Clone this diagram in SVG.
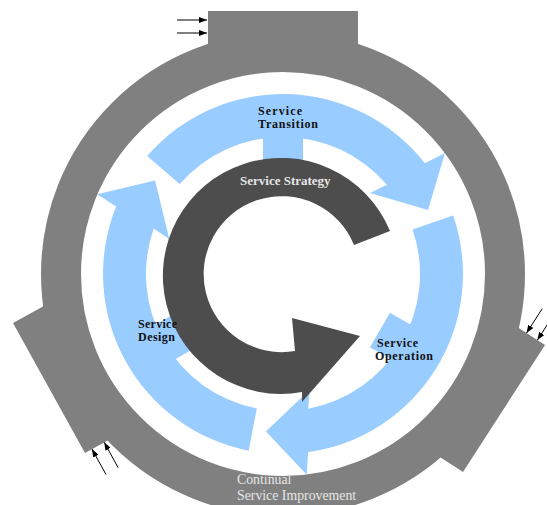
<svg xmlns="http://www.w3.org/2000/svg" width="547" height="505" viewBox="0 0 547 505">
<style>
.ring{fill:none;stroke:#808080;stroke-width:40}
.tab{fill:#808080}
.blue{fill:#99ccff}
.dark{fill:#4d4d4d}
.lbl{font-family:"Liberation Serif",serif;font-weight:bold;fill:#111;font-size:12px}
.wl{font-family:"Liberation Serif",serif;fill:#e6e6e6}
.in{stroke:#000;stroke-width:1;fill:none;marker-end:url(#ah)}
</style>
<defs>
<marker id="ah" viewBox="0 0 8 6" refX="8" refY="3" markerWidth="8" markerHeight="6" markerUnits="userSpaceOnUse" orient="auto">
<path d="M0,0 L8,3 L0,6 Z" fill="#000"/>
</marker>
<path id="blueArrow" class="blue" d="M179.6,184.1 L147.2,155.9 A180,180 0 0 1 424.8,163.2 L445,153 L428,210 L370,193 L387,184.8 A137,137 0 0 0 179.6,184.1 Z M263,130 H303 V162 H263 Z"/>
</defs>
<g id="csi">
<circle class="ring" cx="283" cy="274" r="222"/>
<rect class="tab" x="208" y="11" width="150" height="40"/>
<polygon class="tab" points="13,323 85,453 124.4,431.2 52.4,301.2"/>
<polygon class="tab" points="545,345 463,472 425.2,447.6 507.2,320.6"/>
<text class="wl" font-size="13.8" x="237" y="484">Continual</text>
<text class="wl" font-size="13.8" x="237" y="500">Service Improvement</text>
</g>
<g id="connectors">
<line class="in" x1="177" y1="20" x2="207" y2="20"/>
<line class="in" x1="177" y1="33" x2="207" y2="33"/>
<line class="in" x1="106" y1="474.5" x2="92" y2="449.1"/>
<line class="in" x1="118.2" y1="467.7" x2="104.2" y2="442.3"/>
<line class="in" x1="542.2" y1="308.7" x2="526.5" y2="333.1"/>
<line class="in" x1="553" y1="315.7" x2="537.4" y2="340.1"/>
</g>
<g id="transition">
<use href="#blueArrow"/>
<text class="lbl" x="258" y="115" textLength="44">Service</text>
<text class="lbl" x="258" y="128" textLength="60">Transition</text>
</g>
<g id="operation">
<use href="#blueArrow" transform="rotate(120 283 274)"/>
</g>
<g id="design">
<use href="#blueArrow" transform="rotate(240 283 274)"/>
</g>
<g id="strategy">
<path class="dark" d="M390,231 A118,118 0 1 0 302,392 L302,402 L360,336 L292,318 L295,351 A78,78 0 1 1 354,245 Z"/>
<text class="wl" font-weight="bold" font-size="13" x="240" y="185">Service Strategy</text>
</g>
<g id="labels">
<text class="lbl" x="138" y="328" textLength="39">Service</text>
<text class="lbl" x="138" y="341" textLength="37">Design</text>
<text class="lbl" x="377" y="347" textLength="41">Service</text>
<text class="lbl" x="375" y="360" textLength="58">Operation</text>
</g>
</svg>
